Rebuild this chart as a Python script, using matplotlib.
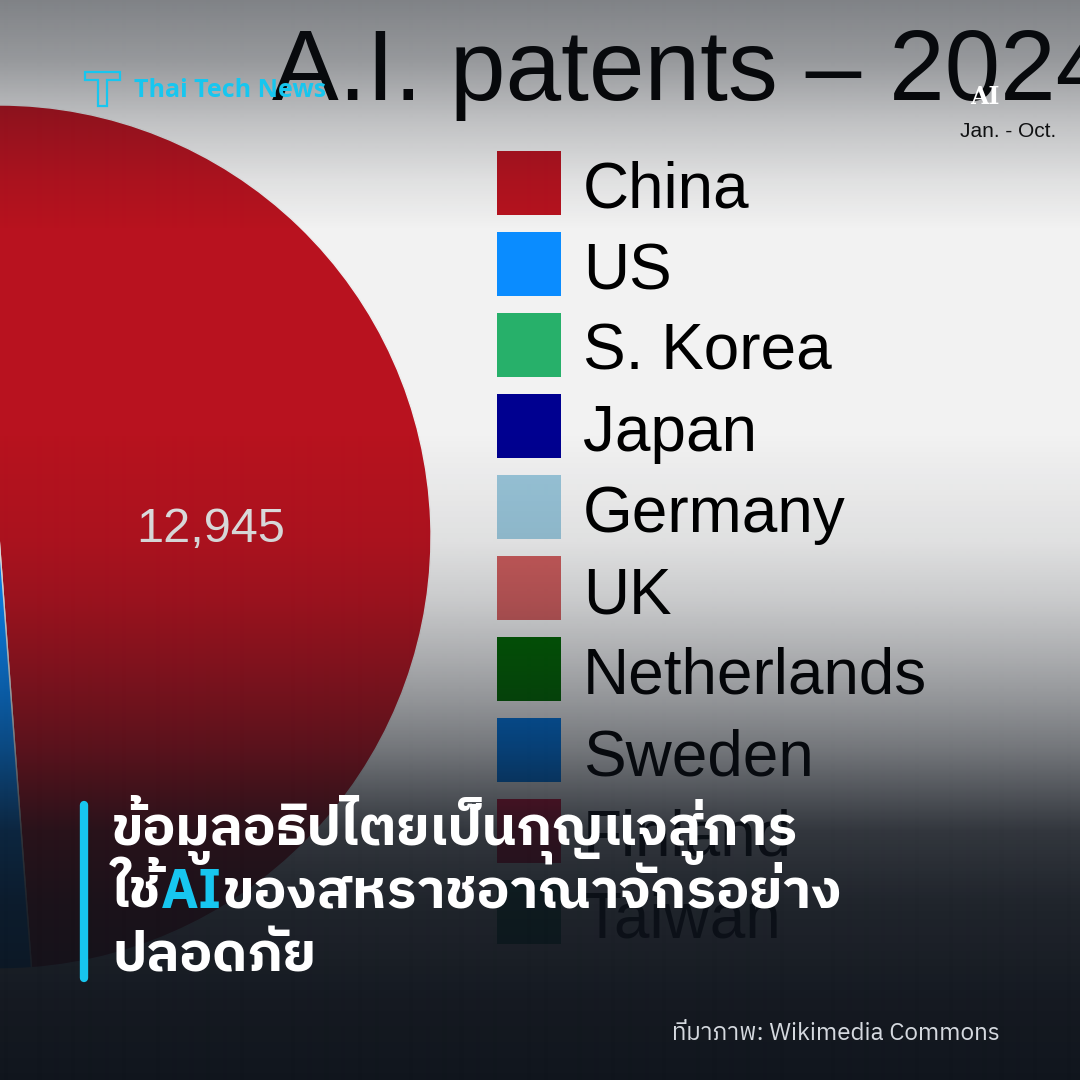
import numpy as np
import matplotlib
matplotlib.use("Agg")
import matplotlib.pyplot as plt
from matplotlib import font_manager as fm
from matplotlib.ft2font import FT2Font
from matplotlib.patches import Rectangle, Polygon

# ---------------- data ----------------
countries = ["China", "US", "S. Korea", "Japan", "Germany", "UK",
             "Netherlands", "Sweden", "Finland", "Taiwan"]
patents = [12945, 8600, 2000, 1300, 600, 350, 250, 200, 150, 130]
colors = ["#b8121f", "#0a8cff", "#27b06a", "#000090", "#98c4d8", "#cd5c5c",
          "#006400", "#0078e6", "#d4143a", "#1a7a5a"]
title = "A.I. patents – 2024"
subtitle = "Jan. - Oct."
badge = "AI"
brand = "Thai Tech News"
headline_1 = "ข้อมูลอธิปไตยเป็นกุญแจสู่การ"
headline_2 = ["ใช้", "AI", "ของสหราชอาณาจักรอย่าง"]
headline_3 = "ปลอดภัย"
source = "ที่มาภาพ: Wikimedia Commons"

CYAN = "#17c6ef"
DARK = (13 / 255, 18 / 255, 26 / 255)


def thai_families():
    fams = []
    for f in fm.fontManager.ttflist:
        try:
            cmap = FT2Font(f.fname).get_charmap()
        except Exception:
            continue
        if 0x0E01 in cmap and 0x0E49 in cmap and f.name not in fams:
            fams.append(f.name)
    fams.sort(key=lambda n: (("Thai" not in n), ("Looped" in n), ("Sans" not in n), n))
    return fams


tf = thai_families()
THAI = (tf[:1] if tf else []) + ["Noto Sans", "DejaVu Sans"]

fig = plt.figure(figsize=(10.8, 10.8), dpi=100, facecolor="#f2f2f2")
ax = fig.add_axes([0, 0, 1, 1])

# ---------------- pie ----------------
total = sum(patents)
wedges, texts, autotexts = ax.pie(
    patents, colors=colors, center=(-1, 537), radius=432,
    startangle=-90, counterclock=True,
    wedgeprops=dict(edgecolor="#eeeeee", linewidth=1.0),
    autopct=lambda p: f"{round(p * total / 100):,}" if p > 40 else "",
    pctdistance=0.49,
    textprops=dict(color="#e6e6e6", fontsize=35, family="Liberation Sans"),
)
for w in wedges:
    w.set_zorder(2)
for t in autotexts:
    t.set_zorder(3)

# ---------------- legend ----------------
for i, (name, c) in enumerate(zip(countries, colors)):
    yc = 183 + 81 * i
    ax.add_patch(Rectangle((497, yc - 32), 64, 64, facecolor=c, edgecolor="none", zorder=2))
    ax.text(583, yc + 25, name, fontsize=46, family="Liberation Sans", color="black",
            ha="left", va="baseline", zorder=3)

# ---------------- titles ----------------
ax.text(272, 100, title, fontsize=72, family="Liberation Sans", color="#050505",
        ha="left", va="baseline", zorder=3)
ax.text(1008, 137, subtitle, fontsize=15, family="Liberation Sans", color="#111111",
        ha="center", va="baseline", zorder=3)

# ---------------- gradient overlay ----------------
prof_y = [0, 60, 120, 180, 230, 430, 540, 600, 660, 700, 750, 830, 900, 1000, 1080]
prof_a = [0.50, 0.40, 0.22, 0.08, 0.0, 0.0, 0.08, 0.18, 0.32, 0.42, 0.56, 0.84, 0.92, 0.97, 0.99]
alpha = np.interp(np.arange(1080), prof_y, prof_a)
ov = np.zeros((1080, 1, 4))
ov[..., 0], ov[..., 1], ov[..., 2] = DARK
ov[:, 0, 3] = alpha
ax.imshow(ov, extent=(0, 1080, 1080, 0), aspect="auto", zorder=5, interpolation="bilinear")

# ---------------- overlay texts ----------------
ax.text(985, 104, badge, fontsize=17, family="DejaVu Serif", weight="bold", color="white",
        ha="center", va="baseline", zorder=7)
ax.add_patch(Polygon([(85, 72), (120, 72), (120, 80), (107, 80), (107, 106), (98, 106),
                      (98, 80), (85, 80)], closed=True, fill=False, edgecolor=CYAN,
                     linewidth=1.6, zorder=7))
ax.text(134, 97, brand, fontsize=18, weight="bold",
        family=["Open Sans", "Noto Sans", "DejaVu Sans"],
        color=CYAN, ha="left", va="baseline", zorder=7)

ax.plot([84, 84], [805, 978], lw=6, color=CYAN, solid_capstyle="round", zorder=7)

r = fig.canvas.get_renderer()
t1 = ax.text(112, 845, headline_1, fontsize=34, weight="bold", family=THAI, color="white",
             ha="left", va="baseline", zorder=7)
w = t1.get_window_extent(r).width
fs = 34 * 686 / w
t1.set_fontsize(fs)

x = 112
for k, part in enumerate(headline_2):
    t = ax.text(x, 908, part, fontsize=fs, weight="bold", family=THAI,
                color=(CYAN if k == 1 else "white"), ha="left", va="baseline", zorder=7)
    x += t.get_window_extent(r).width
ax.text(112, 972, headline_3, fontsize=fs, weight="bold", family=THAI, color="white",
        ha="left", va="baseline", zorder=7)

ax.text(1000, 1040, source, fontsize=17.5, family=THAI, color="#d5d9df",
        ha="right", va="baseline", zorder=7)

ax.set_xlim(0, 1080)
ax.set_ylim(1080, 0)
ax.set_aspect("auto")
ax.axis("off")

fig.savefig("out.png", dpi=100, facecolor=fig.get_facecolor())
